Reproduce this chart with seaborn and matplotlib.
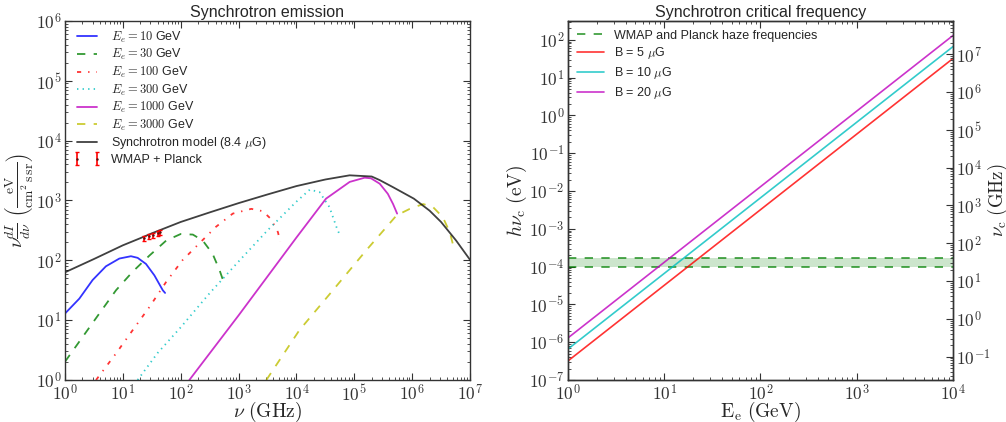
import numpy as np
import seaborn as sns
import matplotlib
matplotlib.use("Agg")
import matplotlib.pyplot as plt
from matplotlib.ticker import LogLocator, FuncFormatter, NullFormatter

# ---- left panel: synchrotron spectra (nu in GHz, nu dI/dnu in eV/cm2/s/sr)
nu_10 = [1.0, 1.77, 3.0, 5.1, 8.7, 13.8, 18.0, 25.1, 35.1, 49.0, 53.7]
I_10 = [12.9, 22.9, 46.8, 79.4, 107, 117, 110, 87, 56, 31.6, 28.5]

nu_30 = [1.0, 2.02, 3.92, 7.62, 14.8, 28.8, 56.2, 100, 162, 240, 355, 468, 537]
I_30 = [2.02, 5.25, 12.9, 31.6, 64.6, 120, 214, 275, 269, 214, 129, 69, 47]

nu_100 = [3.44, 7.62, 14.8, 28.8, 56.2, 107, 209, 407, 794, 1660, 2630, 3630, 4790, 5250]
I_100 = [1.0, 2.78, 6.81, 16.6, 43.7, 100, 191, 363, 603, 724, 661, 490, 295, 204]

nu_300 = [18.0, 39.8, 100, 316, 1000, 3162, 10000, 17000, 25100, 37200, 49000, 56200]
I_300 = [1.0, 2.82, 7.59, 28.2, 95.5, 316, 955, 1514, 1380, 776, 363, 263]

nu_1000 = [141, 1000, 1e4, 3.24e4, 8.32e4, 1.51e5, 1.95e5, 2.75e5, 3.8e5, 4.68e5, 5.5e5]
I_1000 = [1.0, 12, 240, 1070, 2040, 2400, 2340, 1905, 1290, 871, 603]

nu_3000 = [3020, 1.12e4, 4.27e4, 1.62e5, 5.37e5, 9.12e5, 1.55e6, 2.29e6, 3.39e6, 4.47e6, 5.25e6]
I_3000 = [1.0, 6.76, 31.6, 148, 562, 724, 871, 776, 525, 295, 162]

nu_model = [1, 3.16, 10, 20, 31.6, 100, 316, 1000, 3160, 1e4, 3.16e4, 8.3e4,
            2e5, 2.75e5, 4.7e5, 1.07e6, 2e6, 3.16e6, 5.75e6, 1e7]
I_model = [63, 105, 178, 234, 282, 437, 631, 902, 1259, 1738, 2239, 2630,
           2512, 2188, 1660, 1072, 676, 437, 214, 102]

nu_haze = [23, 28.4, 33, 41, 44]
I_haze = [235, 252, 262, 282, 292]
I_haze_err = [22, 24, 25, 27, 28]

# ---- right panel: critical frequency (E in GeV, h nu_c in eV)
E_e = [1.0, 1e4]
hnu_5uG = [3.2e-7, 32]
hnu_10uG = [6.6e-7, 66]
hnu_20uG = [1.3e-6, 130]
haze_band = [9.5e-5, 1.65e-4]
EV_TO_GHZ = 2.418e5

sns.set_style("ticks")
plt.rcParams.update({
    "font.family": ["Liberation Sans", "DejaVu Sans"],
    "mathtext.fontset": "cm",
    "lines.dashed_pattern": [6, 6],
    "lines.dashdot_pattern": [3, 5, 1, 5],
    "lines.dotted_pattern": [1, 3],
    "lines.scale_dashes": False,
    "axes.edgecolor": "#333333",
    "axes.linewidth": 1.0,
    "xtick.color": "#333333",
    "ytick.color": "#333333",
})

fig = plt.figure(figsize=(10.06, 4.22), dpi=100)
ax = fig.add_axes([0.0646, 0.0995, 0.4026, 0.851])
axr = fig.add_axes([0.5646, 0.0995, 0.3827, 0.851])

lw = 1.3
al = 0.8
sns.lineplot(x=nu_10, y=I_10, ax=ax, sort=False, color="b", lw=lw, alpha=al,
             label=r"$E_e = 10$ GeV")
sns.lineplot(x=nu_30, y=I_30, ax=ax, sort=False, color="g", lw=lw, alpha=al,
             linestyle="--", label=r"$E_e = 30$ GeV")
sns.lineplot(x=nu_100, y=I_100, ax=ax, sort=False, color="r", lw=lw, alpha=al,
             linestyle="-.", label=r"$E_e = 100$ GeV")
sns.lineplot(x=nu_300, y=I_300, ax=ax, sort=False, color="c", lw=lw, alpha=al,
             linestyle=":", label=r"$E_e = 300$ GeV")
sns.lineplot(x=nu_1000, y=I_1000, ax=ax, sort=False, color="m", lw=lw, alpha=al,
             label=r"$E_e = 1000$ GeV")
sns.lineplot(x=nu_3000, y=I_3000, ax=ax, sort=False, color="y", lw=lw, alpha=al,
             linestyle="--", label=r"$E_e = 3000$ GeV")
sns.lineplot(x=nu_model, y=I_model, ax=ax, sort=False, color="k", lw=lw, alpha=0.75,
             label=r"Synchrotron model (8.4 $\mu$G)")
ax.errorbar(nu_haze, I_haze, yerr=I_haze_err, fmt=".", color="#551111", ms=1.5,
            ecolor="r", elinewidth=1.2, capsize=1.5, capthick=1.0,
            label="WMAP + Planck")

ax.set_xscale("log")
ax.set_yscale("log")
ax.set_xlim(1, 1e7)
ax.set_ylim(1, 1e6)
ax.set_title("Synchrotron emission", fontsize=11.5, pad=3)
ax.set_xlabel(r"$\nu\ \mathrm{(GHz)}$", fontsize=14, labelpad=-2.7)
ax.set_ylabel(r"$\nu\frac{dI}{d\nu}\ \left(\frac{\mathrm{eV}}{\mathrm{cm^2\,s\,sr}}\right)$",
              fontsize=14, labelpad=0)
h, l = ax.get_legend_handles_labels()
ax.legend(h, l, loc="upper left", frameon=False, fontsize=9, numpoints=2,
          labelspacing=0.2, handlelength=2.2, borderaxespad=0.3)

# right panel
sns.lineplot(x=[E_e[0], E_e[1]], y=[haze_band[0], haze_band[0]], ax=axr, color="g",
             lw=1.2, alpha=0.8, linestyle="--", label="WMAP and Planck haze frequencies")
sns.lineplot(x=[E_e[0], E_e[1]], y=[haze_band[1], haze_band[1]], ax=axr, color="g",
             lw=1.2, alpha=0.8, linestyle="--")
axr.axhspan(haze_band[0], haze_band[1], color="g", alpha=0.2, lw=0)
sns.lineplot(x=E_e, y=hnu_5uG, ax=axr, color="r", lw=1.2, alpha=0.8,
             label=r"B = 5 $\mu$G")
sns.lineplot(x=E_e, y=hnu_10uG, ax=axr, color="c", lw=1.2, alpha=0.8,
             label=r"B = 10 $\mu$G")
sns.lineplot(x=E_e, y=hnu_20uG, ax=axr, color="m", lw=1.2, alpha=0.8,
             label=r"B = 20 $\mu$G")
axr.set_xscale("log")
axr.set_yscale("log")
axr.set_xlim(1, 1e4)
axr.set_ylim(1e-7, 10 ** 2.5)
axr.set_title("Synchrotron critical frequency", fontsize=11.5, pad=3)
axr.set_xlabel(r"$\mathrm{E_e\ (GeV)}$", fontsize=14, labelpad=-2.7)
axr.set_ylabel(r"$h\nu_{\rm c}\ \mathrm{(eV)}$", fontsize=14, labelpad=0)
axr.legend(loc="upper left", frameon=False, fontsize=9, labelspacing=0.3,
           handlelength=2.2, borderaxespad=0.3)

ax2 = axr.twinx()
ax2.set_yscale("log")
lo, hi = axr.get_ylim()
ax2.set_ylim(lo * EV_TO_GHZ, hi * EV_TO_GHZ)
ax2.set_ylabel(r"$\nu_{\rm c}\ \mathrm{(GHz)}$", fontsize=13.5, labelpad=-3)

decade_fmt = FuncFormatter(lambda v, p: r"$10^{%d}$" % int(round(np.log10(v))))
for a in (ax, axr, ax2):
    for axis in (a.xaxis, a.yaxis):
        axis.set_major_locator(LogLocator(base=10, numticks=30))
        axis.set_minor_locator(LogLocator(base=10, subs=np.arange(2, 10), numticks=30))
        axis.set_major_formatter(decade_fmt)
        axis.set_minor_formatter(NullFormatter())
    a.tick_params(which="both", direction="in", labelsize=12.5, pad=2.5)
    a.tick_params(which="major", length=5, width=0.8)
    a.tick_params(which="minor", length=2.5, width=0.6)
    for s in a.spines.values():
        s.set_visible(True)
ax.tick_params(which="both", top=True, right=True)
axr.tick_params(which="both", top=True, right=False)
ax2.tick_params(axis="y", pad=2)

fig.savefig("out.png", dpi=100)
